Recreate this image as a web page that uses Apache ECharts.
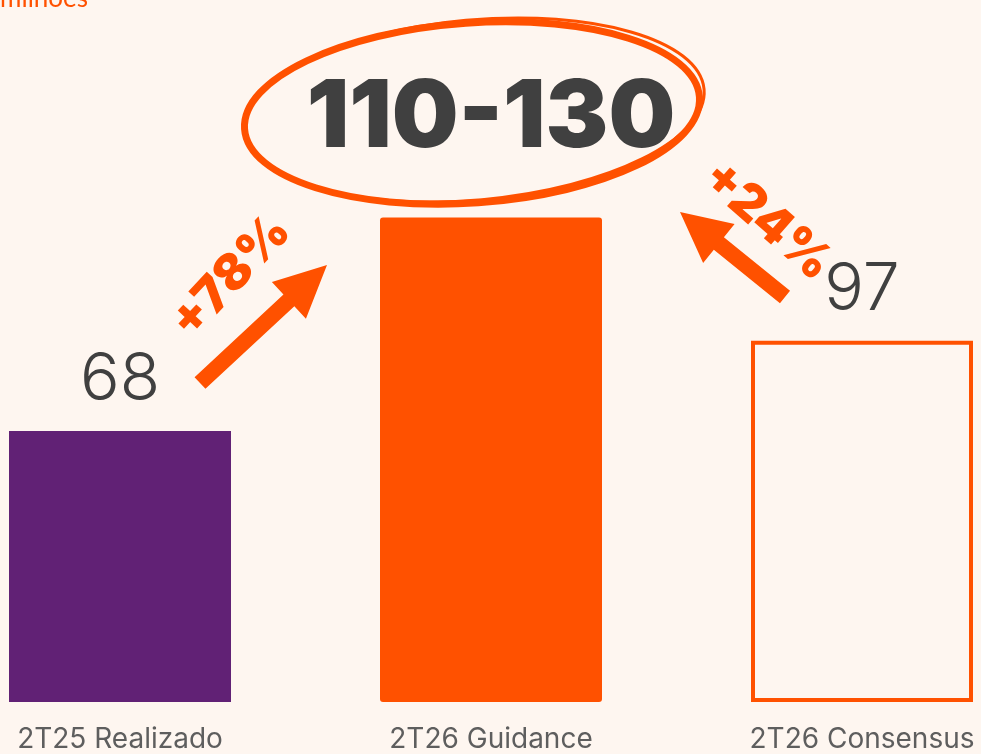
<!DOCTYPE html>
<html>
<head>
<meta charset="utf-8">
<script src="https://cdn.jsdelivr.net/npm/echarts@6/dist/echarts.min.js"></script>
<style>
  html, body { margin: 0; padding: 0; background: #fef6f0; }
  #chart { width: 981px; height: 754px; }
</style>
</head>
<body>
<div id="chart"></div>
<script>
// categories and values
const categories = ['2T25 Realizado', '2T26 Guidance', '2T26 Consensus']
// bar heights as drawn (R$ milhões); guidance drawn near the middle of its range
const barHeights = [68, 121.5, 90.6]
const valueLabels = ['68', '110-130', '97']
const growthLabels = ['+78%', '+24%']

const ORANGE = '#ff5100'
const PURPLE = '#612175'
const BG = '#fef6f0'

const barStyles = [
  { color: PURPLE },
  { color: ORANGE, borderRadius: 3 },
  { color: BG, borderColor: ORANGE, borderWidth: 4 }
]

const barData = barHeights.map((v, i) => ({
  value: v,
  itemStyle: barStyles[i],
  label: i === 1
    ? {
        formatter: valueLabels[i],
        fontFamily: 'Inter',
        fontSize: 94,
        lineHeight: 94,
        fontWeight: 900,
        letterSpacing: -2,
        distance: 52
      }
    : { formatter: valueLabels[i] }
}))

const chart = echarts.init(document.getElementById('chart'))

function arrowPoints(tail, tip, shaftW, headL, headW) {
  const dx = tip[0] - tail[0]
  const dy = tip[1] - tail[1]
  const len = Math.hypot(dx, dy)
  const ux = dx / len, uy = dy / len
  const px = -uy, py = ux
  const bx = tip[0] - ux * headL, by = tip[1] - uy * headL
  return [
    [tail[0] + px * shaftW / 2, tail[1] + py * shaftW / 2],
    [bx + px * shaftW / 2, by + py * shaftW / 2],
    [bx + px * headW / 2, by + py * headW / 2],
    tip,
    [bx - px * headW / 2, by - py * headW / 2],
    [bx - px * shaftW / 2, by - py * shaftW / 2],
    [tail[0] - px * shaftW / 2, tail[1] - py * shaftW / 2]
  ]
}

const growthStyle = {
  fontFamily: 'Inter',
  fontWeight: 900,
  fontSize: 50,
  fill: ORANGE,
  align: 'center',
  verticalAlign: 'middle'
}

const option = {
  backgroundColor: BG,
  animation: false,
  grid: {
    left: 120,
    right: 119,
    top: 104,
    bottom: 52,
    outerBoundsMode: 'none'
  },
  xAxis: {
    type: 'category',
    data: categories,
    boundaryGap: false,
    axisLine: { show: false },
    axisTick: { show: false },
    axisLabel: {
      interval: 0,
      margin: 24,
      fontFamily: 'Inter',
      fontSize: 28,
      color: '#5e5e5e'
    }
  },
  yAxis: {
    type: 'value',
    min: 0,
    max: 150,
    show: false,
    splitLine: { show: false }
  },
  series: [
    {
      type: 'bar',
      barWidth: 222,
      data: barData,
      label: {
        show: true,
        position: 'top',
        distance: 18,
        fontFamily: 'Inter',
        fontWeight: 300,
        fontSize: 66,
        lineHeight: 66,
        color: '#404040'
      }
    }
  ],
  graphic: [
    {
      type: 'text',
      left: -38,
      top: -14,
      style: {
        text: 'R$ milhões',
        fontFamily: 'Lato',
        fontSize: 26,
        fill: ORANGE
      }
    },
    // hand drawn circle around the guidance range
    {
      type: 'ellipse',
      x: 472, y: 113,
      rotation: 0.07,
      shape: { cx: 0, cy: 0, rx: 228, ry: 90 },
      style: { fill: 'none', stroke: ORANGE, lineWidth: 7 },
      z: 10
    },
    {
      type: 'ellipse',
      x: 474, y: 110,
      rotation: 0.09,
      shape: { cx: 0, cy: 0, rx: 231, ry: 90 },
      style: { fill: 'none', stroke: ORANGE, lineWidth: 3 },
      z: 10
    },
    {
      type: 'polygon',
      shape: { points: arrowPoints([200, 383], [327, 265], 16, 52, 50) },
      style: { fill: ORANGE },
      z: 10
    },
    {
      type: 'polygon',
      shape: { points: arrowPoints([785, 297], [680, 212], 16, 50, 50) },
      style: { fill: ORANGE },
      z: 10
    },
    {
      type: 'text',
      x: 231, y: 277,
      rotation: 47 * Math.PI / 180,
      style: Object.assign({ text: growthLabels[0] }, growthStyle),
      z: 10
    },
    {
      type: 'text',
      x: 767, y: 221,
      rotation: -41 * Math.PI / 180,
      style: Object.assign({ text: growthLabels[1] }, growthStyle),
      z: 10
    }
  ]
}

chart.setOption(option)
</script>
</body>
</html>
